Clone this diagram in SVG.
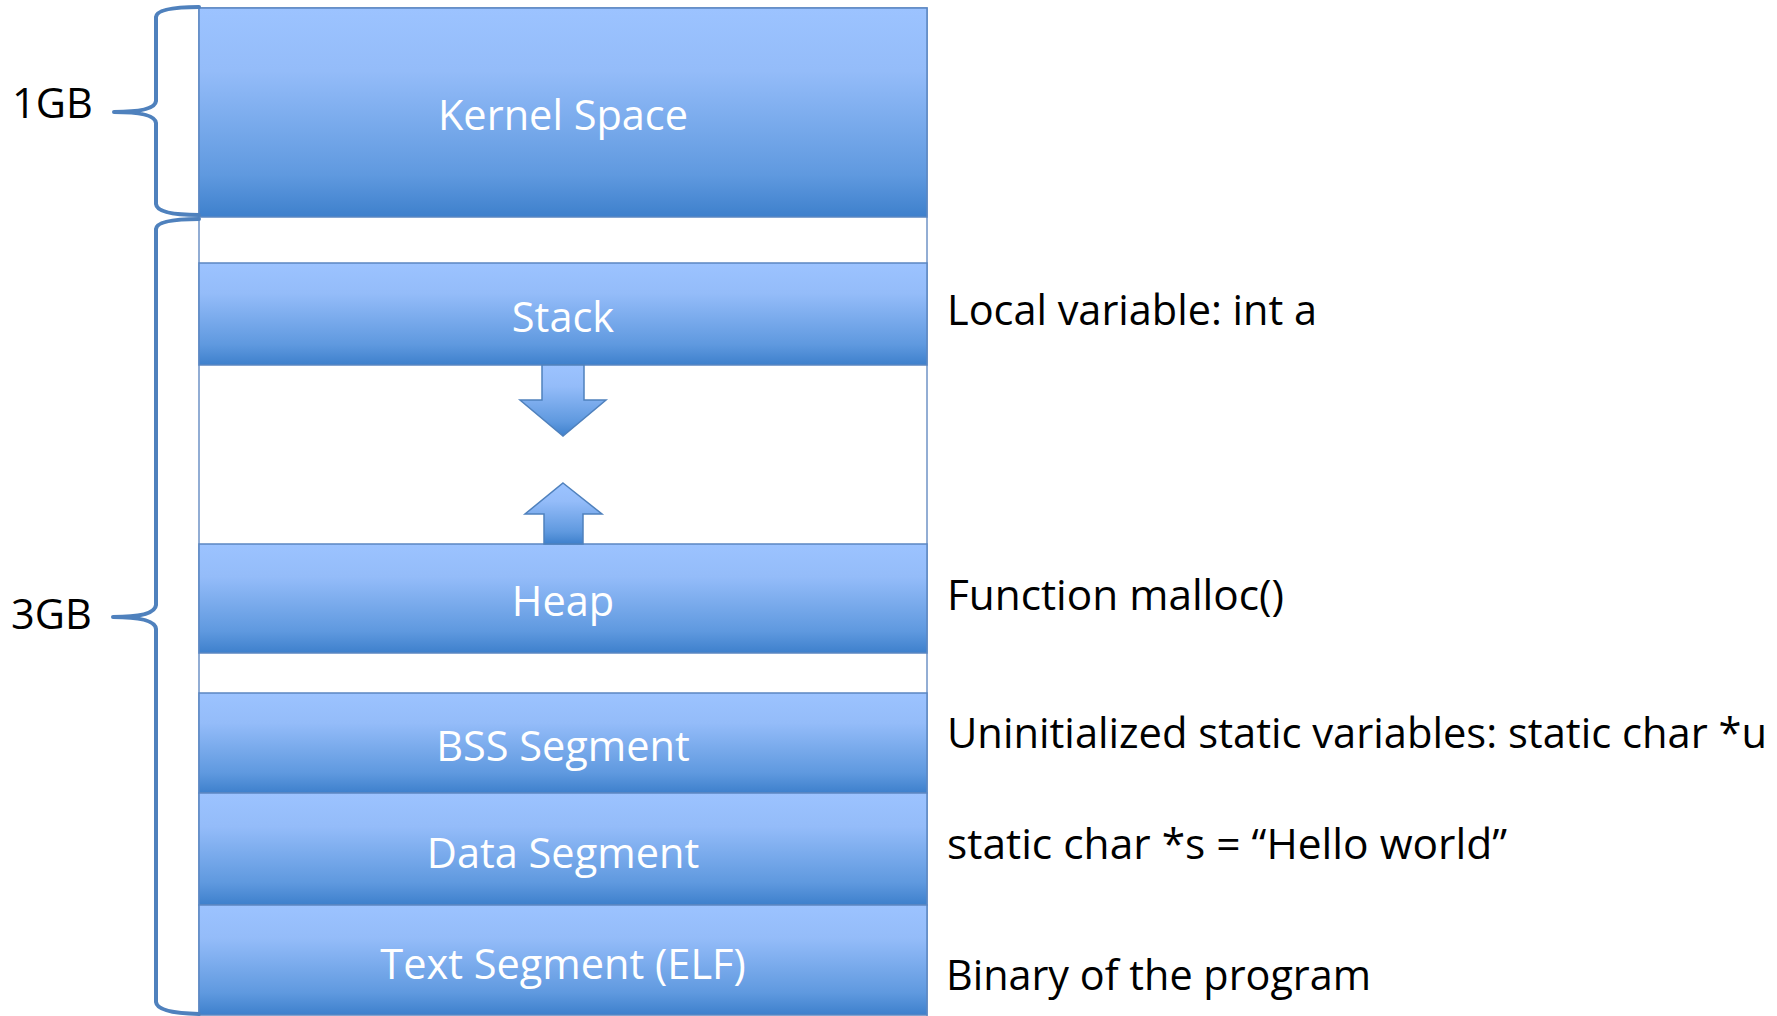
<svg xmlns="http://www.w3.org/2000/svg" width="1777" height="1016" viewBox="0 0 1777 1016">
  <defs>
    <linearGradient id="segFill" x1="0" y1="0" x2="0" y2="1">
      <stop offset="0" stop-color="#9CC3FF"/>
      <stop offset="0.3" stop-color="#94BCF9"/>
      <stop offset="0.8" stop-color="#5F99DF"/>
      <stop offset="1" stop-color="#3E80CC"/>
    </linearGradient>
    <style>
      .seg { fill: url(#segFill); stroke: #5B87C2; stroke-width: 1.5; }
      .frame { fill: #FFFFFF; stroke: #6F93C6; stroke-width: 1.5; }
      .segLabel { font-family: "Open Sans", "Liberation Sans", sans-serif; font-size: 41.5px; fill: #FFFFFF; text-anchor: middle; }
      .note { font-family: "Open Sans", "Liberation Sans", sans-serif; font-size: 41.5px; fill: #000000; }
      .brace { fill: none; stroke: #4F81BD; stroke-width: 4; stroke-linecap: round; stroke-linejoin: round; }
      .growth { fill: url(#segFill); stroke: #4F81BD; stroke-width: 1.5; }
    </style>
  </defs>

  <!-- address space outline -->
  <rect class="frame" x="199" y="8" width="728" height="1010"/>

  <!-- memory segments -->
  <g id="kernel-space">
    <rect class="seg" x="199" y="8" width="728" height="209"/>
    <text class="segLabel" x="563" y="130">Kernel Space</text>
  </g>
  <g id="stack">
    <rect class="seg" x="199" y="263" width="728" height="102"/>
    <text class="segLabel" x="563" y="332">Stack</text>
  </g>
  <g id="heap">
    <rect class="seg" x="199" y="544" width="728" height="109"/>
    <text class="segLabel" x="563" y="616">Heap</text>
  </g>
  <g id="bss-segment">
    <rect class="seg" x="199" y="693" width="728" height="100"/>
    <text class="segLabel" x="563" y="761">BSS Segment</text>
  </g>
  <g id="data-segment">
    <rect class="seg" x="199" y="793" width="728" height="112"/>
    <text class="segLabel" x="563" y="868">Data Segment</text>
  </g>
  <g id="text-segment">
    <rect class="seg" x="199" y="905" width="728" height="110"/>
    <text class="segLabel" x="563" y="979">Text Segment (ELF)</text>
  </g>

  <!-- size labels -->
  <g id="label-1gb">
    <text class="note" x="12" y="118">1GB</text>
  </g>
  <g id="label-3gb">
    <text class="note" x="11" y="629">3GB</text>
  </g>

  <!-- segment notes -->
  <g id="note-stack">
    <text class="note" x="947" y="325" textLength="370" lengthAdjust="spacingAndGlyphs">Local variable: int a</text>
  </g>
  <g id="note-heap">
    <text class="note" x="947" y="610" textLength="337" lengthAdjust="spacingAndGlyphs">Function malloc()</text>
  </g>
  <g id="note-bss">
    <text class="note" x="947" y="748" textLength="820" lengthAdjust="spacingAndGlyphs">Uninitialized static variables: static char *u</text>
  </g>
  <g id="note-data">
    <text class="note" x="947" y="859" textLength="560" lengthAdjust="spacingAndGlyphs">static char *s = “Hello world”</text>
  </g>
  <g id="note-text">
    <text class="note" x="946" y="990" textLength="425" lengthAdjust="spacingAndGlyphs">Binary of the program</text>
  </g>

  <!-- braces and growth arrows -->
  <g id="connectors">
    <path class="brace" d="M199,7 Q157,7 156,17 L156,101 Q155,112 114,112 Q155,112 156,123 L156,204 Q157,215 199,215"/>
    <path class="brace" d="M199,219 Q157,219 156,229 L156,605 Q155,617 113,617 Q155,617 156,629 L156,1002 Q157,1013 199,1014"/>
    <polygon class="growth" points="542,365 584,365 584,400 606,400 563,436 520,400 542,400"/>
    <polygon class="growth" points="563,483 602,514 583,514 583,544 544,544 544,514 525,514"/>
  </g>
</svg>
